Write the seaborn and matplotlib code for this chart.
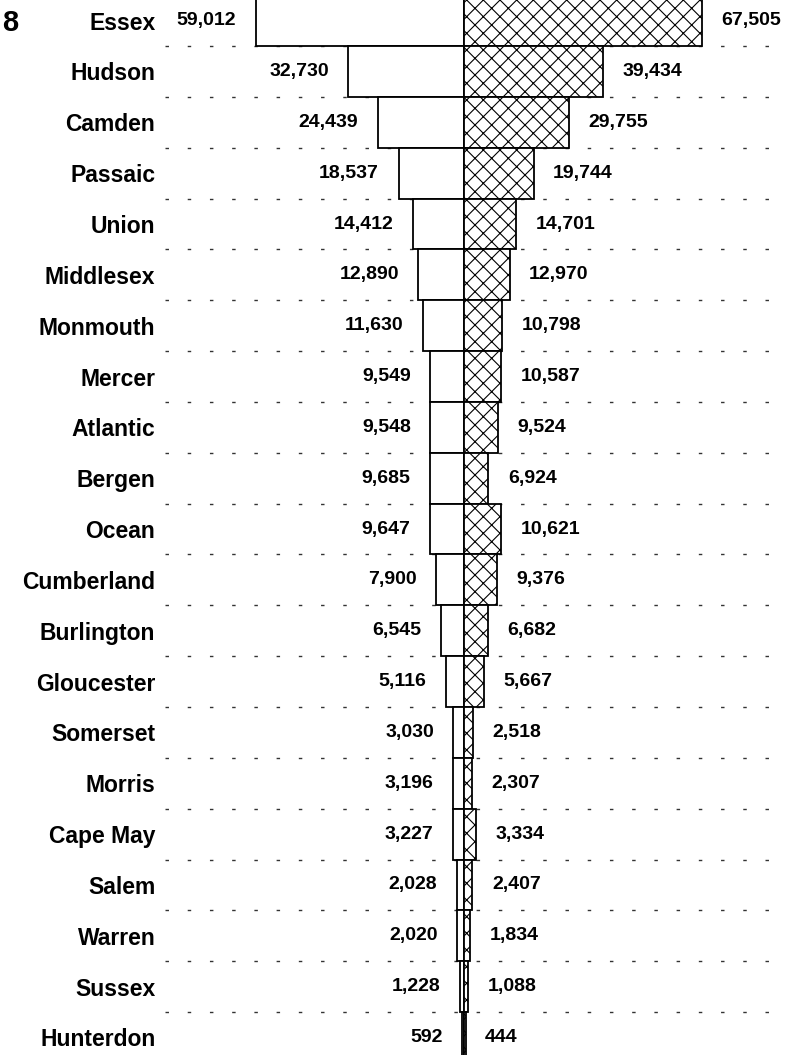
import numpy as np
import pandas as pd
import matplotlib
matplotlib.use("Agg")
import matplotlib.pyplot as plt
import seaborn as sns

# county values, left side (plain bars) and right side (hatched bars)
counties = ["Essex", "Hudson", "Camden", "Passaic", "Union", "Middlesex",
            "Monmouth", "Mercer", "Atlantic", "Bergen", "Ocean", "Cumberland",
            "Burlington", "Gloucester", "Somerset", "Morris", "Cape May",
            "Salem", "Warren", "Sussex", "Hunterdon"]
left_vals = [59012, 32730, 24439, 18537, 14412, 12890, 11630, 9549, 9548,
             9685, 9647, 7900, 6545, 5116, 3030, 3196, 3227, 2028, 2020,
             1228, 592]
right_vals = [67505, 39434, 29755, 19744, 14701, 12970, 10798, 10587, 9524,
              6924, 10621, 9376, 6682, 5667, 2518, 2307, 3334, 2407, 1834,
              1088, 444]

df = pd.DataFrame({"county": counties,
                   "left": -np.array(left_vals),
                   "right": np.array(right_vals)})

sns.set_style("white")
plt.rcParams["font.family"] = ["Liberation Sans", "DejaVu Sans"]
plt.rcParams["text.color"] = "black"
plt.rcParams["ytick.color"] = "black"
plt.rcParams["ytick.labelcolor"] = "black"
plt.rcParams["hatch.linewidth"] = 0.8

W, H = 799, 1055
fig = plt.figure(figsize=(W / 100, H / 100), dpi=100)
x0 = 165  # left edge of axes in pixels
ax = fig.add_axes([x0 / W, 0, 1 - x0 / W, 1])

px = 3.53 / 1000  # pixels per unit
center = 464
xlo = -(center - x0) / px
xhi = (W - center) / px

# dashed separators between rows
ax.hlines(np.arange(len(counties) - 1) + 0.5, xlo, (770 - center) / px,
          colors="#333333", linewidth=1.0, linestyles=(0, (2.5, 13.5)), zorder=0)

sns.barplot(data=df, x="left", y="county", orient="h", width=1.0,
            color="white", saturation=1, edgecolor="black", linewidth=1.3,
            ax=ax, zorder=2)
ax.bar_label(ax.containers[-1], labels=[f"{v:,}" for v in left_vals],
             padding=14, fontsize=14, fontweight="bold", color="black")

sns.barplot(data=df, x="right", y="county", orient="h", width=1.0,
            color="white", saturation=1, edgecolor="black", linewidth=1.3,
            hatch="xx", ax=ax, zorder=2)
ax.bar_label(ax.containers[-1], labels=[f"{v:,}" for v in right_vals],
             padding=14, fontsize=14, fontweight="bold", color="black")

ax.set_xlim(xlo, xhi)
ax.set_ylim(20.345, -0.406)
ax.set_xlabel("")
ax.set_ylabel("")
ax.set_xticks([])
ax.tick_params(axis="y", length=0, pad=7)
for lab in ax.get_yticklabels():
    lab.set_fontsize(16.5)
    lab.set_fontweight("bold")
    lab.set_color("black")
sns.despine(ax=ax, left=True, bottom=True)

fig.text(2 / W, 1 - 23 / H, "8", fontsize=21, fontweight="bold",
         ha="left", va="center")

fig.savefig("out.png", dpi=100)
